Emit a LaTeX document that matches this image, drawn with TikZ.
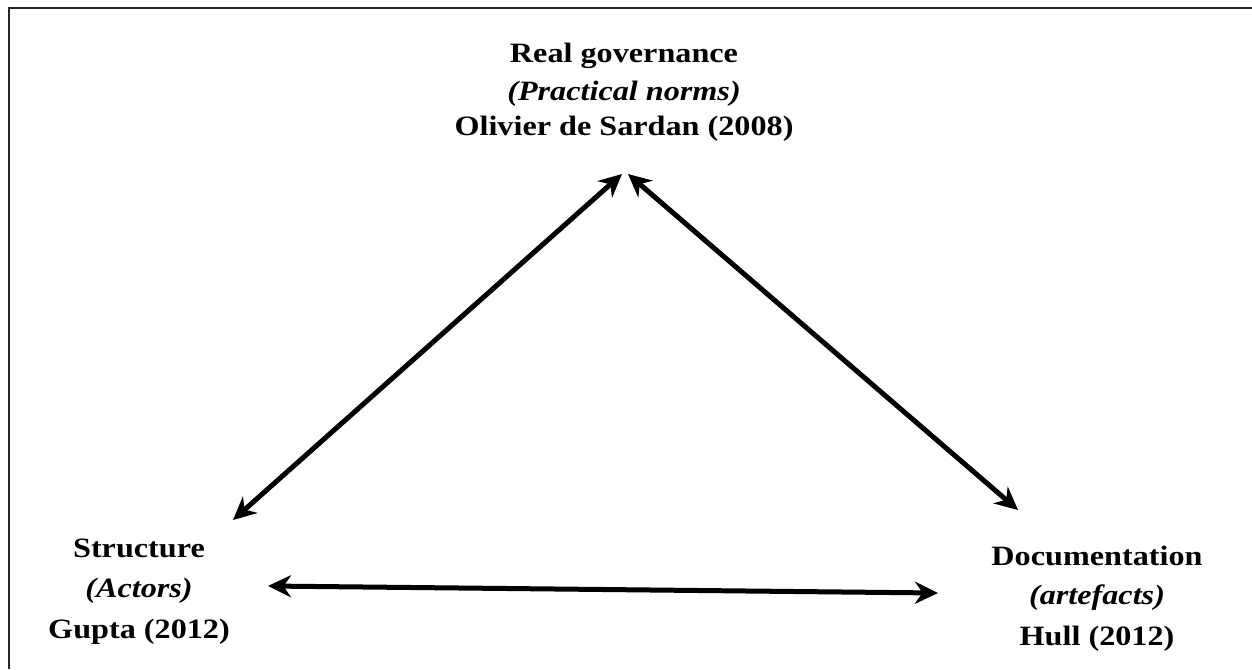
\documentclass[tikz,border=0pt]{standalone}
\usepackage{fontspec}
\setmainfont{Liberation Serif}[FakeStretch=1.15]
\usetikzlibrary{arrows.meta}
\begin{document}
\begin{tikzpicture}[x=1pt,y=-1pt,
  label/.style={font=\bfseries\fontsize{28}{34}\selectfont, anchor=base, inner sep=0pt},
  link/.style={{Stealth[length=23pt,width=22pt]}-{Stealth[length=23pt,width=22pt]}, line width=5pt}]
\useasboundingbox (0,0) rectangle (1252,669);
% frame: top and left edges
\draw[line width=1.5pt, black!85] (9,669) -- (9,8) -- (1252,8);

% corner labels (placed on their baselines)
\node[label] (gov) at (624,63) {Real governance};
\node[label] (govn) at (624,100) {\itshape (Practical norms)};
\node[label] (gova) at (624,135) {Olivier de Sardan (2008)};

\node[label] (str) at (139,557) {Structure};
\node[label] (strn) at (139,597) {\itshape (Actors)};
\node[label] (stra) at (139,638) {Gupta (2012)};

\node[label] (doc) at (1097,565) {Documentation};
\node[label] (docn) at (1097,604) {\itshape (artefacts)};
\node[label] (doca) at (1097,645) {Hull (2012)};

% end points of the connectors
\coordinate (top1) at (622,174);
\coordinate (top2) at (628,174);
\coordinate (left1) at (233,520);
\coordinate (left2) at (268,586);
\coordinate (right1) at (1018,510);
\coordinate (right2) at (938,593);

\draw[link] (left1) -- (top1);
\draw[link] (top2) -- (right1);
\draw[link] (left2) -- (right2);
\end{tikzpicture}
\end{document}
